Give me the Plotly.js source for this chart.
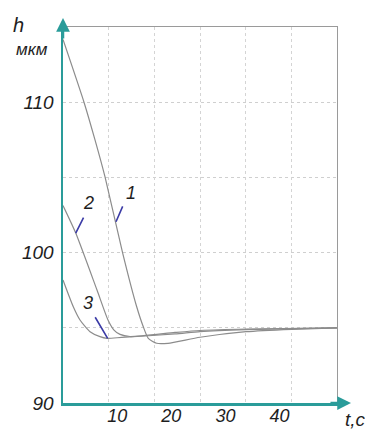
<!DOCTYPE html>
<html>
<head>
<meta charset="utf-8">
<script src="https://cdn.plot.ly/plotly-3.0.1.min.js"></script>
<style>html,body{margin:0;padding:0;background:#fff;}#chart{width:365px;height:432px;}</style>
</head>
<body>
<div id="chart"></div>
<script>
// Data (t in seconds, h in micrometres)
const t1 = [0, 3.92, 5.91, 7.76, 11.02, 13.61, 14.83, 15.75, 17.30, 19.39, 25.30, 33.80, 42.23, 50.6];
const h1 = [114.17, 109.95, 107.49, 105.03, 99.97, 96.40, 95.07, 94.30, 93.97, 93.97, 94.37, 94.74, 94.90, 94.99];

const t2 = [0, 2.35, 6.28, 8.31, 9.42, 10.53, 12.37, 20.68, 25.30, 33.80, 50.6];
const h2 = [103.13, 101.30, 97.51, 95.52, 94.85, 94.56, 94.42, 94.69, 94.82, 94.92, 94.99];

const t3 = [0, 1.90, 3.14, 4.99, 6.83, 8.13, 10.84, 20.68, 25.30, 33.80, 50.6];
const h3 = [98.18, 96.40, 95.52, 94.74, 94.41, 94.30, 94.36, 94.59, 94.75, 94.88, 94.99];

// Curve labels and their leader strokes
const curveNames = ['1', '2', '3'];
const labelT = [12.56, 4.80, 4.62];
const labelH = [103.96, 103.30, 96.62];
const leaderHeadT = [9.79, 2.35, 8.25];
const leaderHeadH = [102.05, 101.30, 94.30];
const leaderTailT = [11.14, 3.93, 5.78];
const leaderTailH = [103.17, 102.43, 95.80];

// Axis ticks
const xTickVals = [10, 20, 30, 40];
const xTickText = ['10', '20', '30', '40'];
const yTickVals = [90, 95, 100, 105, 110];
const yTickText = ['90', '', '100', '', '110'];

const xRange = [0, 50.6];
const yRange = [90, 115];
const xGridStep = 50.6 / 6;

const teal = '#2a9c9a';
const curveColor = '#8c8c8c';
const textColor = '#1e1e1e';
const fontFam = '"Liberation Sans", Arial, sans-serif';

const curveTrace = (x, y) => ({
  x: x, y: y, type: 'scatter', mode: 'lines',
  line: {color: curveColor, width: 1.2, shape: 'spline', smoothing: 0.6},
  hoverinfo: 'skip', showlegend: false
});

const traces = [
  curveTrace(t1, h1),
  curveTrace(t2, h2),
  curveTrace(t3, h3),
  {x: [], y: [], xaxis: 'x2', yaxis: 'y2', type: 'scatter', mode: 'lines', showlegend: false}
];

const annotations = [];
curveNames.forEach((n, i) => {
  annotations.push({
    x: leaderHeadT[i], y: leaderHeadH[i], xref: 'x', yref: 'y',
    ax: leaderTailT[i], ay: leaderTailH[i], axref: 'x', ayref: 'y',
    text: '', showarrow: true, arrowhead: 0, arrowwidth: 1.6, arrowcolor: '#3b3ba6',
    standoff: 0, startstandoff: 0
  });
  annotations.push({
    x: labelT[i], y: labelH[i], xref: 'x', yref: 'y', text: n, showarrow: false,
    font: {family: fontFam, size: 18, color: textColor, style: 'italic'},
    xanchor: 'center', yanchor: 'middle'
  });
});
// axis arrows
annotations.push({
  x: 0, y: 1.024, xref: 'paper', yref: 'paper', ax: 0, ay: 22,
  text: '', showarrow: true, arrowhead: 2, arrowsize: 1.1, arrowwidth: 2.5, arrowcolor: teal, standoff: 0
});
annotations.push({
  x: 1.051, y: 0, xref: 'paper', yref: 'paper', ax: -22, ay: 0,
  text: '', showarrow: true, arrowhead: 2, arrowsize: 1.1, arrowwidth: 2.5, arrowcolor: teal, standoff: 0
});
// axis titles
annotations.push({
  x: -0.161, y: 1.005, xref: 'paper', yref: 'paper', text: 'h', showarrow: false,
  font: {family: fontFam, size: 20, color: textColor, style: 'italic'}, xanchor: 'center', yanchor: 'middle'
});
annotations.push({
  x: -0.113, y: 0.939, xref: 'paper', yref: 'paper', text: 'мкм', showarrow: false,
  font: {family: fontFam, size: 17, color: textColor, style: 'italic'}, xanchor: 'center', yanchor: 'middle'
});
annotations.push({
  x: 1.066, y: -0.045, xref: 'paper', yref: 'paper', text: 't,c', showarrow: false,
  font: {family: fontFam, size: 19, color: textColor, style: 'italic'}, xanchor: 'center', yanchor: 'middle'
});

const tickFont = {family: fontFam, size: 18, color: textColor, style: 'italic'};

const layout = {
  width: 365, height: 432,
  margin: {l: 63, r: 28, t: 27, b: 29},
  paper_bgcolor: '#ffffff', plot_bgcolor: '#ffffff',
  showlegend: false,
  xaxis: {
    range: xRange, tickmode: 'array', tickvals: xTickVals, ticktext: xTickText,
    showgrid: false, zeroline: false, showline: true, linecolor: teal, linewidth: 2.5,
    ticks: '', tickfont: tickFont, ticklabelstandoff: -5, fixedrange: true, layer: 'above traces'
  },
  xaxis2: {
    range: xRange, overlaying: 'x', side: 'top', anchor: 'y2', tickmode: 'linear', tick0: 0, dtick: xGridStep,
    showgrid: true, gridcolor: '#d4d4d4', gridwidth: 1, griddash: 'dot',
    showticklabels: false, ticks: '', zeroline: false, showline: true, linecolor: '#9a9a9a', linewidth: 1.2
  },
  yaxis: {
    range: yRange, tickmode: 'array', tickvals: yTickVals, ticktext: yTickText,
    showgrid: true, gridcolor: '#cfcfcf', gridwidth: 1, griddash: 'dot',
    zeroline: false, showline: true, linecolor: teal, linewidth: 2.5,
    ticks: '', tickfont: {family: fontFam, size: 19, color: textColor, style: 'italic'},
    ticklabelstandoff: 3, fixedrange: true, layer: 'above traces'
  },
  yaxis2: {
    range: yRange, overlaying: 'y', side: 'right', anchor: 'x2',
    showgrid: false, showticklabels: false, ticks: '', zeroline: false,
    showline: true, linecolor: '#9a9a9a', linewidth: 1.2
  },
  annotations: annotations
};

Plotly.newPlot('chart', traces, layout, {staticPlot: true, displayModeBar: false});
</script>
</body>
</html>
